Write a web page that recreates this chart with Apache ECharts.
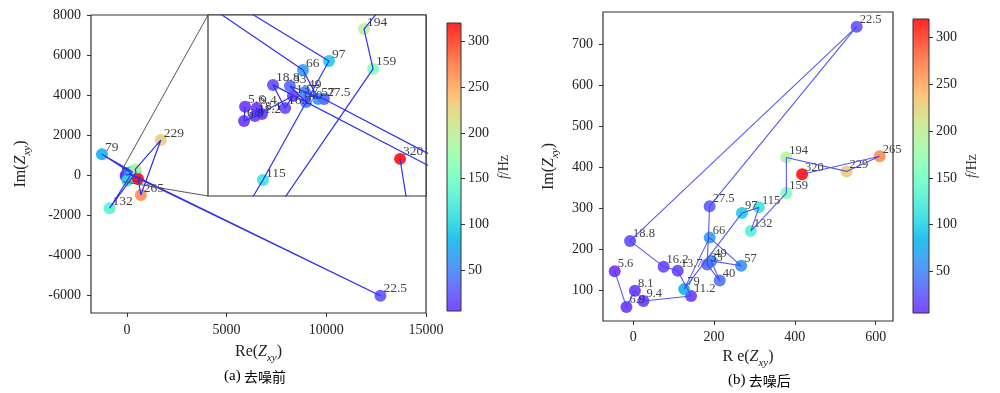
<!DOCTYPE html>
<html><head><meta charset="utf-8">
<script src="https://cdn.jsdelivr.net/npm/echarts@6/dist/echarts.min.js"></script>
<style>html,body{margin:0;padding:0;background:#fff}#c{width:1000px;height:393px}</style>
</head><body><div id="c"></div>
<script>
// ---- data ----
const freqs    = [5.6, 6.9, 8.1, 9.4, 11.2, 13.7, 16.2, 18.8, 22.5, 27.5, 33, 40, 49, 57, 66, 79, 97, 115, 132, 159, 194, 229, 265, 320];
const beforeRe = [-53, -57, 14, -6, -14, 137, 106, 58, 12715, 260, 125, 189, 185, 237, 177, -1250, 280, 18, -870, 455, 419, 1700, 700, 562];
const beforeIm = [-5, -57, -31, -9, -39, 35, -9, 76, -6038, 24, 72, 13, 50, 24, 131, 1033, 164, -275, -1662, 135, 282, 1747, -998, -197];
const afterRe  = [-46, -17, 4, 25, 143, 110, 75, -8, 553, 189, 183, 214, 193, 267, 189, 126, 269, 311, 291, 379, 379, 528, 610, 418];
const afterIm  = [146, 58, 98, 73, 85, 147, 157, 220, 744, 305, 162, 123, 171, 159, 228, 102, 288, 302, 244, 337, 424, 390, 427, 383];
const leftXTicks  = [0, 5000, 10000, 15000];
const leftYTicks  = [-6000, -4000, -2000, 0, 2000, 4000, 6000, 8000];
const rightXTicks = [0, 200, 400, 600];
const rightYTicks = [100, 200, 300, 400, 500, 600, 700];
const cbarTicks   = [50, 100, 150, 200, 250, 300];
const insetX = [-200, 665];
const insetY = [-334, 334];
const fMin = 5.6, fMax = 320;

// ---- helpers (colormap: rainbow-like, blue-violet at the low end) ----
function cmap(t) {
  const r = Math.min(1, Math.abs(2 * t - 0.5)), g = Math.sin(Math.PI * t), b = Math.cos(Math.PI * t / 2);
  if (t < 0.25) {               // pull the low end toward blue-violet
    const k = t / 0.25;
    return [r * (0.55 + 0.45 * k) + 0.12 * (1 - k), g + 0.15 * (1 - k), b];
  }
  return [r, g, b];
}
function toRgb(c, a) {
  const f = v => Math.round((Math.min(1, v) * a + (1 - a)) * 255);
  return 'rgb(' + f(c[0]) + ',' + f(c[1]) + ',' + f(c[2]) + ')';
}
const mapColors = [], barStops = [];
for (let i = 0; i <= 20; i++) {
  mapColors.push(toRgb(cmap(i / 20), 1));
  barStops.push({ offset: 1 - i / 20, color: toRgb(cmap(i / 20), 0.85) });
}
const beforeData = freqs.map((f, i) => [beforeRe[i], beforeIm[i], f]);
const afterData  = freqs.map((f, i) => [afterRe[i], afterIm[i], f]);
const inInset = v => v[0] >= insetX[0] && v[0] <= insetX[1] && v[1] >= insetY[0] && v[1] <= insetY[1];

const SERIF = 'Liberation Serif';
const tickLabel = (vals, margin) => ({ customValues: vals, fontFamily: SERIF, fontSize: 14, color: '#222', margin: margin, formatter: v => String(v) });
const tick = vals => ({ show: true, customValues: vals, length: 4, lineStyle: { color: '#333', width: 1 } });
const richZ = {
  n: { fontFamily: SERIF, fontSize: 16, color: '#222', lineHeight: 24 },
  i: { fontFamily: SERIF, fontSize: 16, color: '#222', fontStyle: 'italic', lineHeight: 24 },
  s: { fontFamily: SERIF, fontSize: 11, color: '#222', fontStyle: 'italic', lineHeight: 24, verticalAlign: 'bottom' }
};
const zName = p => '{n|' + p + '(}{i|Z}{s|xy}{n|)}';
const fName = '{i|f}{n|/Hz}';
const richF = {
  n: { fontFamily: SERIF, fontSize: 14, color: '#333' },
  i: { fontFamily: SERIF, fontSize: 14, color: '#333', fontStyle: 'italic' }
};
function valAxis(grid, min, max, ticks, extra) {
  return Object.assign({
    type: 'value', gridIndex: grid, min: min, max: max, scale: true,
    axisLine: { show: false, onZero: false }, splitLine: { show: false },
    axisTick: tick(ticks), axisLabel: tickLabel(ticks, 10)
  }, extra || {});
}
const labelStyle = (size, hideInInsetBox) => ({
  show: true, position: [9, -1], align: 'left', verticalAlign: 'middle',
  fontFamily: SERIF, fontSize: size, color: '#222',
  formatter: p => (hideInInsetBox && inInset(p.value)) ? '' : String(p.value[2])
});

const chart = echarts.init(document.getElementById('c'));
const option = {
  backgroundColor: '#fff',
  animation: false,
  grid: [
    { left: 91, top: 15, width: 335, height: 298, show: true, borderColor: '#333', borderWidth: 1.2, backgroundColor: '#fff' },
    { left: 208, top: 15, width: 218, height: 181, show: true, borderColor: '#333', borderWidth: 1.2, backgroundColor: '#fff', z: 5 },
    { left: 447, top: 23, width: 14, height: 288, show: true, borderColor: '#333', borderWidth: 1,
      backgroundColor: { type: 'linear', x: 0, y: 0, x2: 0, y2: 1, colorStops: barStops } },
    { left: 603, top: 12, width: 290, height: 309, show: true, borderColor: '#333', borderWidth: 1.2, backgroundColor: '#fff' },
    { left: 913, top: 19, width: 16, height: 294, show: true, borderColor: '#333', borderWidth: 1,
      backgroundColor: { type: 'linear', x: 0, y: 0, x2: 0, y2: 1, colorStops: barStops } }
  ],
  xAxis: [
    valAxis(0, -1800, 15000, leftXTicks, { name: zName('Re'), nameLocation: 'middle', nameGap: 27, nameTextStyle: { rich: richZ } }),
    { type: 'value', gridIndex: 1, min: insetX[0], max: insetX[1], show: false },
    { type: 'value', gridIndex: 2, min: 0, max: 1, show: false },
    valAxis(3, -75, 643, rightXTicks, { name: zName('R e'), nameLocation: 'middle', nameGap: 24, nameTextStyle: { rich: richZ },
      axisLabel: tickLabel(rightXTicks, 9) }),
    { type: 'value', gridIndex: 4, min: 0, max: 1, show: false }
  ],
  yAxis: [
    valAxis(0, -6900, 8000, leftYTicks, { name: zName('Im'), nameLocation: 'middle', nameGap: 58, nameTextStyle: { rich: richZ } }),
    { type: 'value', gridIndex: 1, min: insetY[0], max: insetY[1], show: false },
    valAxis(2, fMin, fMax, cbarTicks, { position: 'right', name: fName, nameLocation: 'middle', nameRotate: 90, nameGap: 36,
      nameTextStyle: { rich: richF }, axisLabel: tickLabel(cbarTicks, 7) }),
    valAxis(3, 24, 780, rightYTicks, { name: zName('Im'), nameLocation: 'middle', nameGap: 42, nameTextStyle: { rich: richZ } }),
    valAxis(4, fMin, fMax, cbarTicks, { position: 'right', name: fName, nameLocation: 'middle', nameRotate: 90, nameGap: 36,
      nameTextStyle: { rich: richF }, axisLabel: tickLabel(cbarTicks, 7) })
  ],
  visualMap: [{
    show: false, type: 'continuous', dimension: 2, min: fMin, max: fMax,
    seriesIndex: [1, 3, 5], inRange: { color: mapColors }
  }],
  series: [
    { type: 'line', xAxisIndex: 0, yAxisIndex: 0, data: beforeData, symbol: 'none', z: 3,
      lineStyle: { color: '#2f2ff2', width: 1.2 },
      markArea: { silent: true, itemStyle: { color: 'rgba(0,0,0,0)', borderColor: '#1a2a1a', borderWidth: 1.2 },
        data: [[{ coord: [insetX[0], insetY[1]] }, { coord: [insetX[1], insetY[0]] }]] } },
    { type: 'scatter', xAxisIndex: 0, yAxisIndex: 0, data: beforeData, symbolSize: 12, z: 2,
      itemStyle: { opacity: 0.85 }, label: labelStyle(13.5, true) },
    { type: 'line', xAxisIndex: 1, yAxisIndex: 1, data: beforeData, symbol: 'none', z: 8, clip: true,
      lineStyle: { color: '#2f2ff2', width: 1.2 } },
    { type: 'scatter', xAxisIndex: 1, yAxisIndex: 1, data: beforeData, symbolSize: 12, z: 7, clip: true,
      itemStyle: { opacity: 0.85 }, label: labelStyle(13.5, false) },
    { type: 'line', xAxisIndex: 3, yAxisIndex: 3, data: afterData, symbol: 'none', z: 3,
      lineStyle: { color: '#4646ee', width: 1.1, opacity: 0.9 } },
    { type: 'scatter', xAxisIndex: 3, yAxisIndex: 3, data: afterData, symbolSize: 12, z: 2,
      itemStyle: { opacity: 0.85 }, label: labelStyle(12.5, false) }
  ]
};
chart.setOption(option);

// inset connector lines (from the zoom box corners in the main axes to the inset corners)
const a1 = chart.convertToPixel({ xAxisIndex: 0, yAxisIndex: 0 }, [insetX[0], insetY[1]]);
const a2 = chart.convertToPixel({ xAxisIndex: 0, yAxisIndex: 0 }, [insetX[0], insetY[0]]);
const b1 = chart.convertToPixel({ xAxisIndex: 1, yAxisIndex: 1 }, [insetX[0], insetY[1]]);
const b2 = chart.convertToPixel({ xAxisIndex: 1, yAxisIndex: 1 }, [insetX[0], insetY[0]]);
const capStyle = {
  rich: {
    l: { fontFamily: SERIF, fontSize: 15, color: '#222' },
    c: { fontFamily: 'Noto Sans CJK SC', fontSize: 14, color: '#222' }
  }
};
chart.setOption({
  graphic: [
    { type: 'line', z: 4, shape: { x1: a1[0], y1: a1[1], x2: b1[0], y2: b1[1] }, style: { stroke: '#555', lineWidth: 1 } },
    { type: 'line', z: 4, shape: { x1: a2[0], y1: a2[1], x2: b2[0], y2: b2[1] }, style: { stroke: '#555', lineWidth: 1 } },
    { type: 'text', left: 224, top: 369, style: Object.assign({ text: '{l|(a)} {c|去噪前}' }, capStyle) },
    { type: 'text', left: 728, top: 373, style: Object.assign({ text: '{l|(b)} {c|去噪后}' }, capStyle) }
  ]
});
</script>
</body></html>
